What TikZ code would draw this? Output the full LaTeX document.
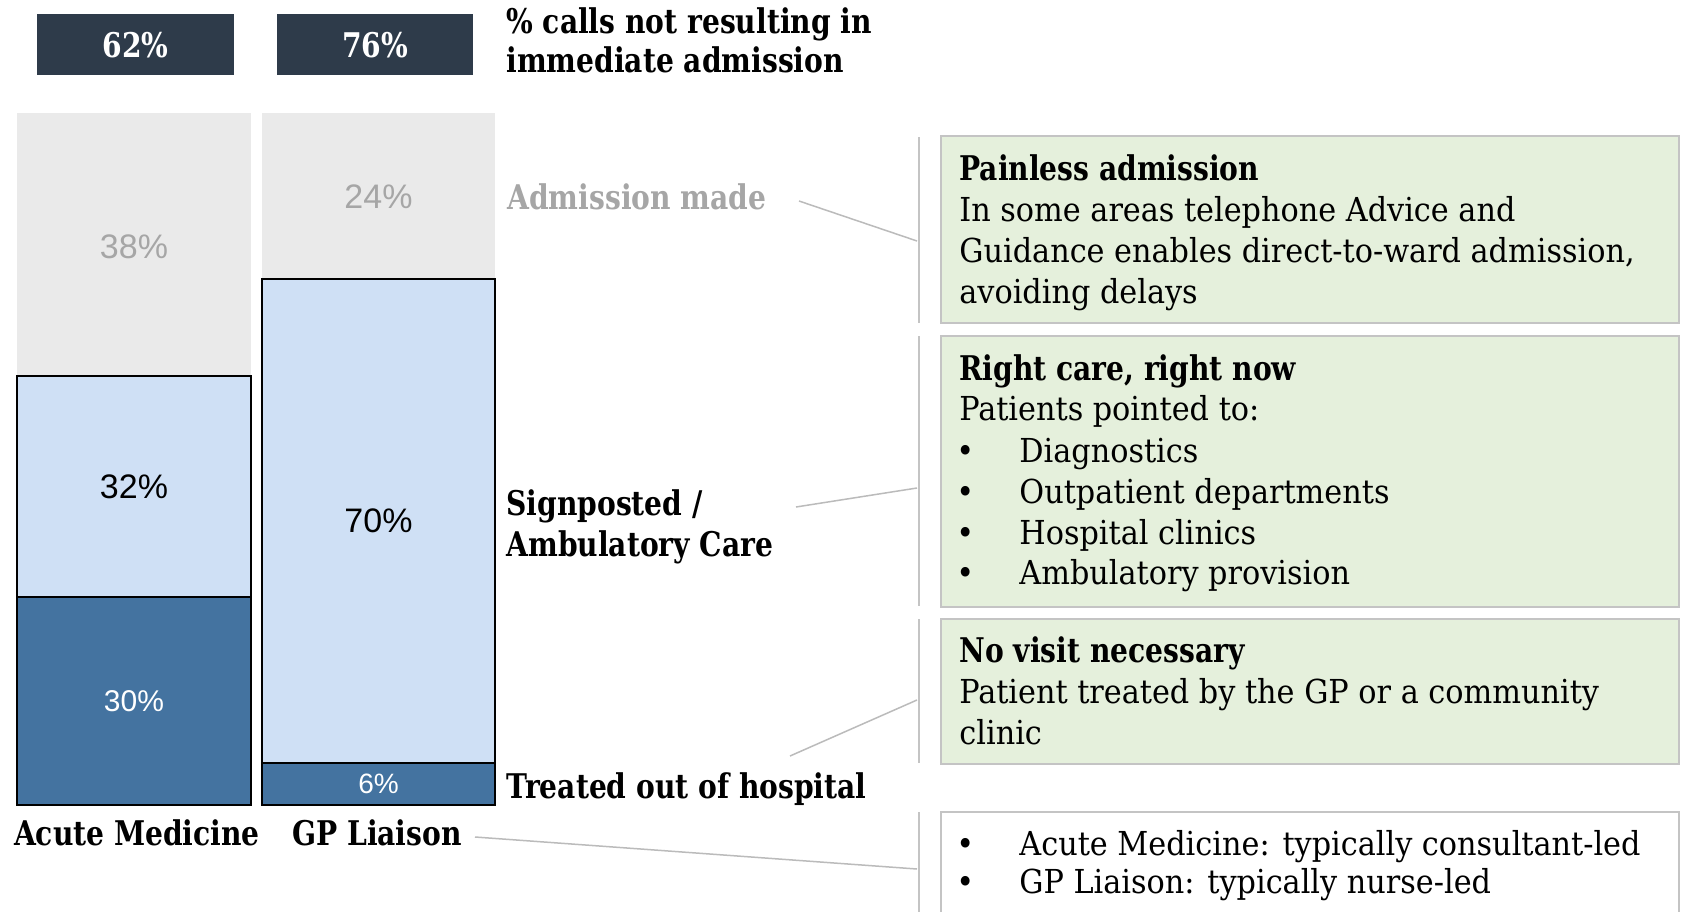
\documentclass[tikz,border=0pt]{standalone}
\usepackage{fontspec}
\setmainfont{DejaVu Serif Condensed}[BoldFont={DejaVu Serif Condensed Bold},UprightFeatures={FakeStretch=1.02},BoldFeatures={FakeStretch=0.92}]
\newfontfamily\arialf{Liberation Sans}
\definecolor{hdr}{HTML}{2E3B4A}
\definecolor{dblue}{HTML}{4473A0}
\definecolor{lblue}{HTML}{CFE0F5}
\definecolor{lgrayfill}{HTML}{EAEAEA}
\definecolor{gfill}{HTML}{E5F0DC}
\definecolor{gborder}{HTML}{C4C4C4}
\definecolor{conncol}{HTML}{BBBBBB}
\definecolor{mutedtxt}{HTML}{A6A6A6}
\begin{document}
\begin{tikzpicture}[x=0.5pt,y=-0.5pt,
  segline/.style={draw=black,line width=1pt},
  pct/.style={font=\arialf\fontsize{17}{20}\selectfont,inner sep=0},
  hdrpct/.style={font=\bfseries\fontsize{17}{20}\selectfont,text=white,inner sep=0},
  lbl/.style={font=\bfseries\fontsize{17}{20}\selectfont,anchor=base west,inner sep=0},
  body/.style={font=\fontsize{16.5}{20}\selectfont,anchor=base west,inner sep=0},
  conn/.style={draw=conncol,line width=0.75pt},
  bracket/.style={draw=gborder,line width=0.75pt},
  gbox/.style={fill=gfill,draw=gborder,line width=1pt},
  wbox/.style={fill=white,draw=gborder,line width=1pt}]
\clip (0,0) rectangle (1682,911);
\fill[white] (0,0) rectangle (1682,911);

% header boxes
\fill[hdr] (37,14) rectangle (234,75);
\fill[hdr] (277,14) rectangle (473,75);
\node[hdrpct] (h1) at (135.5,45) {62\%};
\node[hdrpct] (h2) at (375,45) {76\%};
\node[lbl] (ht1) at (506,33) {\% calls not resulting in};
\node[lbl] (ht2) at (506,72) {immediate admission};

% bar 1
\fill[lgrayfill] (17,113) rectangle (251,376);
\path[segline,fill=lblue] (17,376) rectangle (251,597);
\path[segline,fill=dblue] (17,597) rectangle (251,805);
\node[pct,text=mutedtxt] (p38) at (134,247) {38\%};
\node[pct] (p32) at (134,486.5) {32\%};
\node[pct,text=white,font=\arialf\fontsize{15}{18}\selectfont] (p30) at (134,701) {30\%};

% bar 2
\fill[lgrayfill] (262,113) rectangle (495,279);
\path[segline,fill=lblue] (262,279) rectangle (495,763);
\path[segline,fill=dblue] (262,763) rectangle (495,805);
\node[pct,text=mutedtxt] (p24) at (378.5,197) {24\%};
\node[pct] (p70) at (378.5,521) {70\%};
\node[pct,text=white,font=\arialf\fontsize{14}{17}\selectfont] (p6) at (378.5,784) {6\%};

% category labels
\node[lbl,text=mutedtxt] (lam) at (507,209) {Admission made};
\node[lbl] (ls1) at (506,515) {Signposted /};
\node[lbl] (ls2) at (506,556) {Ambulatory Care};
\node[lbl] (lt) at (506,798) {Treated out of hospital};
\node[lbl,anchor=base] (lacm) at (137,845) {Acute Medicine};
\node[lbl,anchor=base] (lgp) at (377,845) {GP Liaison};

% brackets
\coordinate (b1t) at (919,137); \coordinate (b1b) at (919,323);
\coordinate (b2t) at (919,336); \coordinate (b2b) at (919,606);
\coordinate (b3t) at (919,619); \coordinate (b3b) at (919,763);
\coordinate (b4t) at (919,812); \coordinate (b4b) at (919,915);
\draw[bracket] (b1t) -- (b1b);
\draw[bracket] (b2t) -- (b2b);
\draw[bracket] (b3t) -- (b3b);
\draw[bracket] (b4t) -- (b4b);

% connectors
\coordinate (c1s) at (799,201); \coordinate (c1e) at (917,241);
\coordinate (c2s) at (796,507); \coordinate (c2e) at (917,488);
\coordinate (c3s) at (790,756); \coordinate (c3e) at (917,700);
\coordinate (c4s) at (475,837); \coordinate (c4e) at (917,869);
\draw[conn] (c1s) -- (c1e);
\draw[conn] (c2s) -- (c2e);
\draw[conn] (c3s) -- (c3e);
\draw[conn] (c4s) -- (c4e);

% boxes
\path[gbox] (941,136) rectangle (1679,323);
\path[gbox] (941,336) rectangle (1679,607);
\path[gbox] (941,619) rectangle (1679,764);
\path[wbox] (941,812) rectangle (1679,930);

% box 1 text
\node[lbl] (t11) at (959,180) {Painless admission};
\node[body] (t12) at (959,221) {In some areas telephone Advice and};
\node[body] (t13) at (959,262) {Guidance enables direct-to-ward admission,};
\node[body] (t14) at (959,303) {avoiding delays};

% box 2 text
\node[lbl] (t21) at (959,380) {Right care, right now};
\node[body] (t22) at (959,420) {Patients pointed to:};
\node[body] (u23) at (956,462) {•};
\node[body] (t23) at (1019,462) {Diagnostics};
\node[body] (u24) at (956,503) {•};
\node[body] (t24) at (1019,503) {Outpatient departments};
\node[body] (u25) at (956,544) {•};
\node[body] (t25) at (1019,544) {Hospital clinics};
\node[body] (u26) at (956,584) {•};
\node[body] (t26) at (1019,584) {Ambulatory provision};

% box 3 text
\node[lbl] (t31) at (959,662) {No visit necessary};
\node[body] (t32) at (959,703) {Patient treated by the GP or a community};
\node[body] (t33) at (959,744) {clinic};

% box 4 text
\node[body] (u41) at (956,855) {•};
\node[body] (t41) at (1019,855) {Acute Medicine: typically consultant-led};
\node[body] (u42) at (956,893) {•};
\node[body] (t42) at (1019,893) {GP Liaison: typically nurse-led};
\end{tikzpicture}
\end{document}
